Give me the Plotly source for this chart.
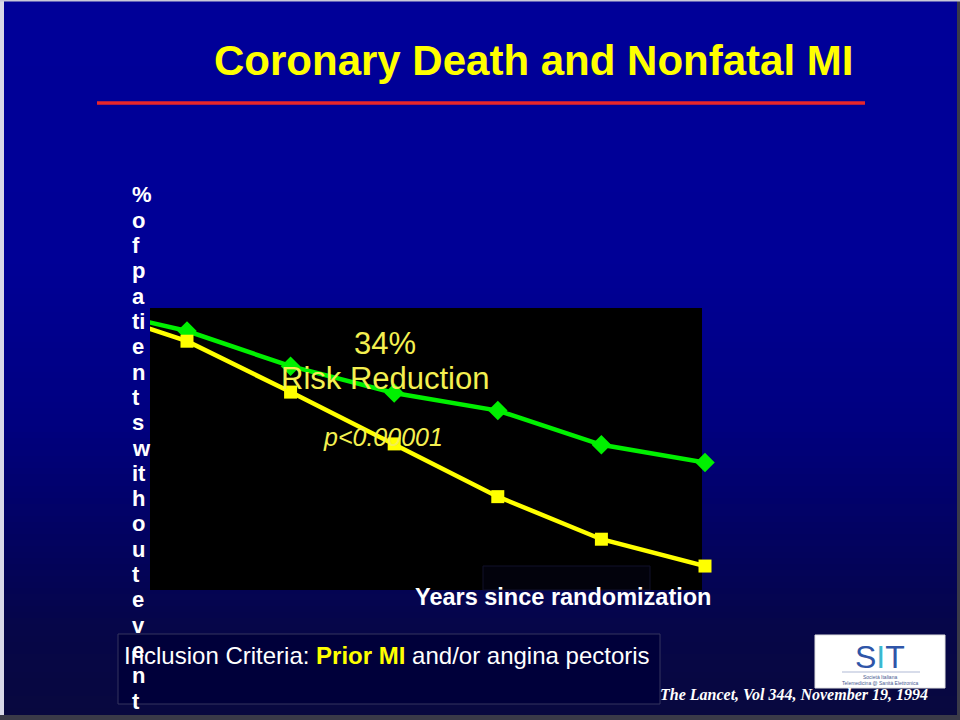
import plotly.graph_objects as go

# ---- data ----
years = [0, 1, 2, 3, 4, 5, 6]
treated_pct = [100, 97.4, 93.6, 90.7, 88.8, 85.1, 83.2]   # green (simvastatin)
placebo_pct = [100, 96.3, 90.8, 85.2, 79.5, 74.9, 72.0]   # yellow (placebo)

title_text = "Coronary Death and Nonfatal MI"
ylabel_lines = ["%", "o", "f", "p", "a", "ti", "e", "n", "t", "s", "w", "it",
                "h", "o", "u", "t", "e", "v", "e", "n", "t"]
xlabel_text = "Years since randomization"
citation_text = "The Lancet, Vol 344, November 19, 1994"

W, H = 960, 720
def px(x):
    return x / W
def py(y):
    return 1 - y / H

GREEN = "#00f000"
YELLOW = "#ffff00"
SANS = "Liberation Sans, Arial, sans-serif"
SERIF = "Liberation Serif, Times New Roman, serif"

fig = go.Figure()

# lines (clipped to plot area)
fig.add_trace(go.Scatter(x=years, y=treated_pct, mode="lines",
                         line=dict(color=GREEN, width=4.5), hoverinfo="skip"))
fig.add_trace(go.Scatter(x=years, y=placebo_pct, mode="lines",
                         line=dict(color=YELLOW, width=4.5), hoverinfo="skip"))
# markers (not clipped)
fig.add_trace(go.Scatter(x=years[1:], y=treated_pct[1:], mode="markers", cliponaxis=False,
                         marker=dict(symbol="diamond", size=15, color=GREEN)))
fig.add_trace(go.Scatter(x=years[1:], y=placebo_pct[1:], mode="markers", cliponaxis=False,
                         marker=dict(symbol="square", size=13, color=YELLOW)))

shapes = []

# background vertical gradient
stops = [(0, (0, 0, 152)), (260, (0, 0, 150)), (420, (0, 0, 128)),
         (530, (2, 2, 98)), (630, (6, 6, 72)), (720, (8, 8, 62))]
def col_at(y):
    for (y0, c0), (y1, c1) in zip(stops[:-1], stops[1:]):
        if y0 <= y <= y1:
            t = (y - y0) / (y1 - y0)
            return tuple(round(a + (b - a) * t) for a, b in zip(c0, c1))
    return stops[-1][1]
band = 6
for y in range(0, H, band):
    r, g, b = col_at(y + band / 2)
    shapes.append(dict(type="rect", xref="paper", yref="paper", layer="below",
                       x0=0, x1=1, y0=py(y + band + 0.5), y1=py(y),
                       fillcolor=f"rgb({r},{g},{b})", line=dict(width=0)))

# frame edges
shapes.append(dict(type="rect", xref="paper", yref="paper", layer="below",
                   x0=0, x1=px(4), y0=0, y1=1, fillcolor="#d8d8e8", line=dict(width=0)))
shapes.append(dict(type="rect", xref="paper", yref="paper", layer="below",
                   x0=px(957), x1=1, y0=0, y1=1, fillcolor="#3a3a48", line=dict(width=0)))
shapes.append(dict(type="rect", xref="paper", yref="paper", layer="below",
                   x0=0, x1=1, y0=0, y1=py(715), fillcolor="#3a3a48", line=dict(width=0)))
shapes.append(dict(type="rect", xref="paper", yref="paper", layer="below",
                   x0=0, x1=1, y0=py(1.5), y1=1, fillcolor="#c8c8d8", line=dict(width=0)))

# black plot area
shapes.append(dict(type="rect", xref="paper", yref="paper", layer="below",
                   x0=px(150), x1=px(702), y0=py(590), y1=py(308),
                   fillcolor="#000000", line=dict(width=0)))
# faint box near the axis label
shapes.append(dict(type="rect", xref="paper", yref="paper", layer="below",
                   x0=px(483), x1=px(650), y0=py(590), y1=py(566),
                   fillcolor="#02020c", line=dict(color="#10102a", width=1)))

# red rule under title
shapes.append(dict(type="line", xref="paper", yref="paper", layer="above",
                   x0=px(97), x1=px(865), y0=py(103), y1=py(103),
                   line=dict(color="#e8262a", width=3.5)))

# inclusion box
shapes.append(dict(type="rect", xref="paper", yref="paper", layer="above",
                   x0=px(118), x1=px(660), y0=py(704), y1=py(634),
                   fillcolor="#00003a", line=dict(color="#34345e", width=1)))
# logo box
shapes.append(dict(type="rect", xref="paper", yref="paper", layer="above",
                   x0=px(815), x1=px(945), y0=py(688), y1=py(635),
                   fillcolor="#ffffff", line=dict(color="#e0e0e0", width=1)))
shapes.append(dict(type="line", xref="paper", yref="paper", layer="above",
                   x0=px(842), x1=px(920), y0=py(672), y1=py(672),
                   line=dict(color="#7a8ab8", width=0.6)))

ann = []
ann.append(dict(text=f"<b>{title_text}</b>", x=px(533), y=py(60), xref="paper", yref="paper",
                showarrow=False, font=dict(family=SANS, size=42, color="#ffff00"),
                xanchor="center", yanchor="middle"))
# vertical axis label, one line per entry
for i, s in enumerate(ylabel_lines):
    ann.append(dict(text=f"<b>{s}</b>", x=px(130), y=py(195 + i * 25.3), xref="paper", yref="paper",
                    showarrow=False, font=dict(family=SANS, size=22, color="#ffffff"),
                    xanchor="left", yanchor="middle"))
ann.append(dict(text="34%", x=px(385), y=py(343), xref="paper", yref="paper", showarrow=False,
                font=dict(family=SANS, size=31, color="#f4f050"), xanchor="center", yanchor="middle"))
ann.append(dict(text="Risk Reduction", x=px(385), y=py(378), xref="paper", yref="paper", showarrow=False,
                font=dict(family=SANS, size=31, color="#f4f050"), xanchor="center", yanchor="middle"))
ann.append(dict(text="<i>p&lt;0.00001</i>", x=px(383), y=py(437), xref="paper", yref="paper", showarrow=False,
                font=dict(family=SANS, size=25, color="#f4f050"), xanchor="center", yanchor="middle"))
ann.append(dict(text=f"<b>{xlabel_text}</b>", x=px(563), y=py(597), xref="paper", yref="paper",
                showarrow=False, font=dict(family=SANS, size=23.5, color="#ffffff"),
                xanchor="center", yanchor="middle"))
ann.append(dict(text="Inclusion Criteria: <b><span style='color:#ffff00'>Prior MI</span></b> and/or angina pectoris",
                x=px(122), y=py(655), xref="paper", yref="paper", showarrow=False,
                font=dict(family=SANS, size=24, color="#ffffff"), xanchor="left", yanchor="middle"))
ann.append(dict(text=f"<b><i>{citation_text}</i></b>", x=px(930), y=py(694), xref="paper", yref="paper",
                showarrow=False, font=dict(family=SERIF, size=16, color="#ffffff"),
                xanchor="right", yanchor="middle"))
# logo text
ann.append(dict(text="S<span style='color:#3ab8d0'>I</span>T", x=px(880), y=py(657), xref="paper", yref="paper",
                showarrow=False, font=dict(family=SANS, size=32, color="#2f55a8"),
                xanchor="center", yanchor="middle"))
ann.append(dict(text="Società Italiana", x=px(880), y=py(677), xref="paper", yref="paper",
                showarrow=False, font=dict(family=SANS, size=5, color="#4a5a90"),
                xanchor="center", yanchor="middle"))
ann.append(dict(text="Telemedicina @ Sanità Elettronica", x=px(880), y=py(683), xref="paper", yref="paper",
                showarrow=False, font=dict(family=SANS, size=5, color="#4a5a90"),
                xanchor="center", yanchor="middle"))

# axis: year 1 at x=187px, year 6 at x=705px; lines clipped at the black box's left edge
fig.update_layout(
    width=W, height=H,
    margin=dict(l=0, r=0, t=0, b=0),
    paper_bgcolor="#000090",
    plot_bgcolor="rgba(0,0,0,0)",
    showlegend=False,
    shapes=shapes,
    annotations=ann,
    xaxis=dict(domain=[px(150), px(705)], range=[0.643, 6.0], visible=False, fixedrange=True),
    yaxis=dict(domain=[py(590), py(308)], range=[69.41, 99.89], visible=False, fixedrange=True),
)

fig.write_html("out.html", config={"displayModeBar": False},
               post_script="document.body.style.margin='0';document.body.style.overflow='hidden';")
